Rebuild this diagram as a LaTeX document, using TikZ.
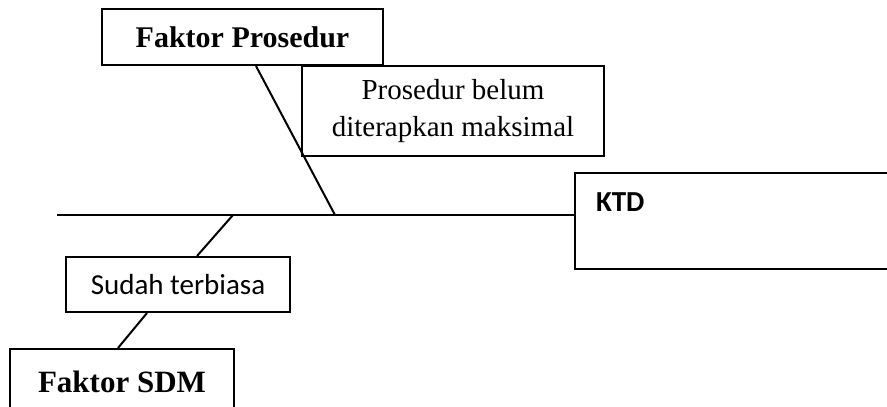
\documentclass[tikz,border=0pt]{standalone}
\usepackage{fontspec}
\setmainfont{Liberation Serif}
\newfontfamily\calibri{Carlito}
\usetikzlibrary{positioning}

\begin{document}
\begin{tikzpicture}[x=1pt, y=-1pt, box/.style={draw, line width=2pt, fill=white, inner sep=0pt}, bone/.style={draw, line width=2pt}]

    \useasboundingbox (0,0) rectangle (887,407);
    \clip (0,0) rectangle (887,407);

    % Define the boxes (nodes)
    \node[box, minimum width=281, minimum height=56, font=\bfseries\fontsize{30}{36}\selectfont] (fp) at (242.5,37) {Faktor Prosedur}; % top cause
    \node[box, minimum width=302, minimum height=90, align=center, font=\fontsize{29}{37}\selectfont] (pb) at (453,111) {Prosedur belum\\diterapkan maksimal};
    \node[box, anchor=north west, text width=300, inner xsep=21, inner ysep=0, text height=38, text depth=58, font={\calibri\bfseries\fontsize{29}{34}\selectfont}] (ktd) at (574,172) {KTD}; % head, cut at the right
    \node[box, minimum width=224, minimum height=55, font={\calibri\fontsize{29}{35}\selectfont}] (sud) at (178,284.5) {Sudah terbiasa};
    \node[box, minimum width=224, minimum height=66, font=\bfseries\fontsize{31}{37}\selectfont] (sdm) at (122,382) {Faktor SDM}; % bottom cause, cut at the bottom

    % Define the joints on the spine
    \coordinate (tail) at (57,215);
    \coordinate (j1) at (335,215);
    \coordinate (j2) at (233,215);

    % Define the bones (edges)
    \path[bone]
    (tail) edge (tail -| ktd.west)
    ([xshift=13.5]fp.south) edge (j1)
    (j2) edge ([xshift=19]sud.north)
    ([xshift=-31]sud.south) edge ([xshift=-4]sdm.north);

\end{tikzpicture}
\end{document}
